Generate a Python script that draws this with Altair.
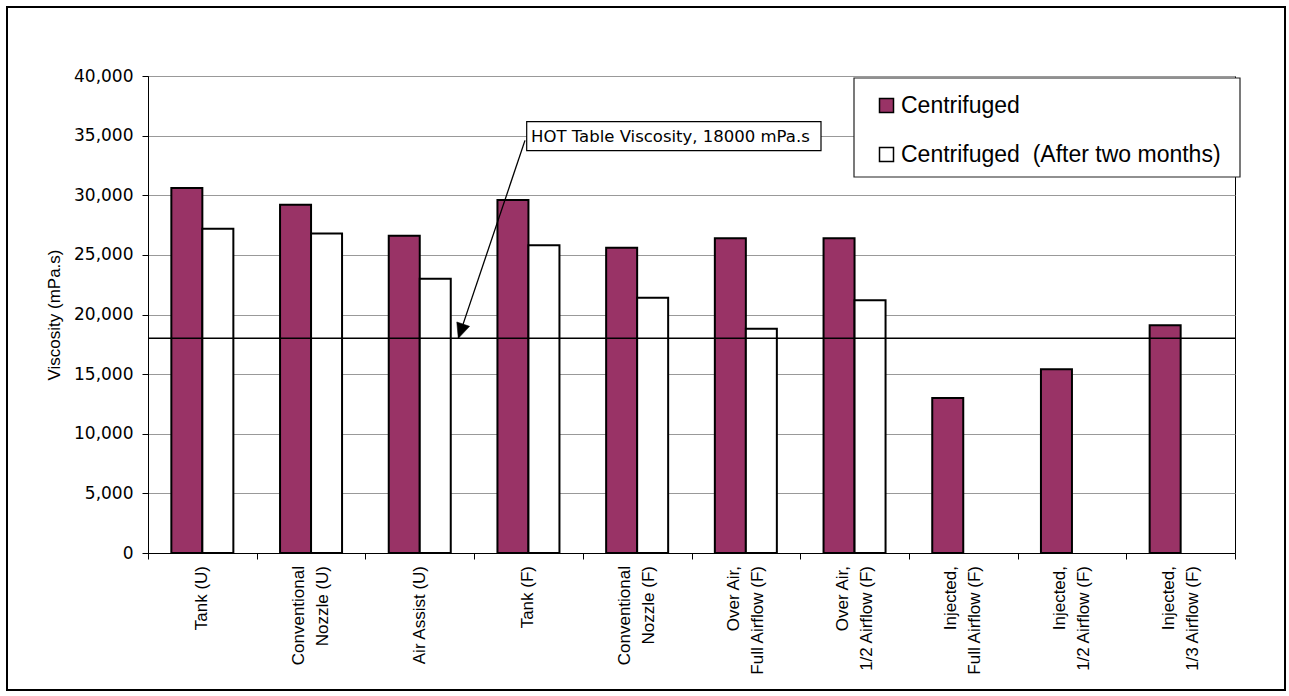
import altair as alt
import pandas as pd

# Viscosity of each sample, centrifuged, and re-measured after two months
categories = [
    "Tank (U)",
    "Conventional|Nozzle (U)",
    "Air Assist (U)",
    "Tank (F)",
    "Conventional|Nozzle (F)",
    "Over Air,|Full Airflow (F)",
    "Over Air,|1/2 Airflow (F)",
    "Injected,|Full Airflow (F)",
    "Injected,|1/2 Airflow (F)",
    "Injected,|1/3 Airflow (F)",
]
centrifuged = [30600, 29200, 26600, 29600, 25600, 26400, 26400, 13000, 15400, 19100]
after_two_months = [27200, 26800, 23000, 25800, 21400, 18800, 21200, None, None, None]

series_names = ["Centrifuged", "Centrifuged\u00a0 (After two months)"]
series_colors = ["#993366", "#ffffff"]

hot_table_value = 18000
hot_table_label = f"HOT Table Viscosity, {hot_table_value} mPa.s"

rows = []
for cat, c, a in zip(categories, centrifuged, after_two_months):
    rows.append({"category": cat, "series": series_names[0], "viscosity": c})
    if a is not None:
        rows.append({"category": cat, "series": series_names[1], "viscosity": a})
df = pd.DataFrame(rows)
cat_df = pd.DataFrame({"category": categories,
                       "lines": [c.count("|") + 1 for c in categories]})
one = pd.DataFrame({"k": [0]})

W, H = 1087, 477
LINE_H = 24
x_scale = alt.Scale(domain=categories, paddingInner=0, paddingOuter=0)

# Frame around the whole figure
frame = alt.Chart(one).mark_rect(fillOpacity=0, stroke="black", strokeWidth=2).encode(
    x=alt.value(-141), x2=alt.value(1137), y=alt.value(-69), y2=alt.value(614)
)

bars = alt.Chart(df).mark_bar(stroke="black", strokeWidth=2).encode(
    x=alt.X(
        "category:N",
        sort=categories,
        scale=x_scale,
        axis=alt.Axis(
            title=None,
            labels=False,
            tickSize=6,
            tickColor="black",
            domainColor="black",
            tickBand="extent",
            grid=False,
        ),
    ),
    xOffset=alt.XOffset(
        "series:N",
        sort=series_names,
        scale=alt.Scale(paddingInner=0, paddingOuter=0.753),
    ),
    y=alt.Y(
        "viscosity:Q",
        scale=alt.Scale(domain=[0, 40000], nice=False),
        axis=alt.Axis(
            values=list(range(0, 40001, 5000)),
            format=",.0f",
            labelFont="DejaVu Sans",
            labelFontSize=17,
            labelColor="black",
            labelPadding=9,
            tickSize=6,
            tickColor="black",
            domainColor="black",
            grid=True,
            gridColor="#999999",
            gridWidth=1,
            title="Viscosity (mPa.s)",
            titleFont="Liberation Sans",
            titleFontSize=17,
            titleFontWeight="normal",
            titleColor="black",
            titleAngle=270,
            titleAlign="center",
            titleBaseline="middle",
            titleX=-94,
            titleY=H / 2,
        ),
    ),
    fill=alt.Fill(
        "series:N",
        sort=series_names,
        scale=alt.Scale(domain=series_names, range=series_colors),
        legend=alt.Legend(
            title=None,
            orient="none",
            legendX=727,
            legendY=18,
            direction="vertical",
            symbolType="square",
            symbolSize=196,
            symbolStrokeColor="black",
            symbolStrokeWidth=1.5,
            labelFont="Liberation Sans",
            labelFontSize=23,
            labelColor="black",
            labelOffset=3,
            labelLimit=400,
            rowPadding=25,
            padding=0,
        ),
    ),
)


# Category names under the axis, rotated; two-line names centred on their band
def category_labels(n_lines, shift):
    return alt.Chart(cat_df).transform_filter(
        alt.datum.lines == n_lines
    ).mark_text(
        angle=270, align="right", baseline="middle", lineBreak="|",
        lineHeight=LINE_H, font="Liberation Sans", fontSize=17, color="black",
        dy=shift,
    ).encode(
        x=alt.X("category:N", sort=categories, scale=x_scale),
        y=alt.value(H + 13),
        text="category:N",
    )


labels_one = category_labels(1, 0)
labels_two = category_labels(2, -LINE_H / 2)

# HOT table reference level
hot_line = alt.Chart(one).mark_rule(color="black", strokeWidth=1.5).encode(
    y=alt.datum(hot_table_value)
)

# Callout: arrow from the label box down to the reference line
arrow_line = alt.Chart(one).mark_rule(color="black", strokeWidth=1.3).encode(
    x=alt.value(377), x2=alt.value(310.3),
    y=alt.datum(34600), y2=alt.datum(hot_table_value),
)
arrow_head = alt.Chart(one).mark_point(
    shape="M0,0L-0.45,1L0.45,1Z", filled=True, fill="black", stroke="black",
    strokeWidth=0.5, opacity=1, size=900, angle=199,
).encode(x=alt.value(310.3), y=alt.datum(hot_table_value))

label_box = alt.Chart(one).mark_rect(fill="white", stroke="black", strokeWidth=1.2).encode(
    x=alt.value(378.7), x2=alt.value(673), y=alt.value(45.7), y2=alt.value(74.7)
)
label_text = alt.Chart(one).mark_text(
    align="left", baseline="middle", font="DejaVu Sans", fontSize=16.5, color="black"
).encode(x=alt.value(383), y=alt.value(60.5), text=alt.value(hot_table_label))

# Box behind the legend entries
legend_box = alt.Chart(one).mark_rect(fill="white", stroke="#222222", strokeWidth=1.2).encode(
    x=alt.value(706), x2=alt.value(1092), y=alt.value(2), y2=alt.value(101)
)

chart = (
    alt.layer(frame, bars, labels_one, labels_two, hot_line, arrow_line, arrow_head,
              label_box, label_text, legend_box)
    .properties(
        width=W,
        height=H,
        autosize=alt.AutoSizeParams(type="none"),
        padding={"left": 148, "top": 76, "right": 54, "bottom": 143},
        background="white",
    )
    .configure_view(stroke="black", strokeWidth=1)
)

chart.save("out.html", embed_options={"renderer": "svg", "actions": False})
